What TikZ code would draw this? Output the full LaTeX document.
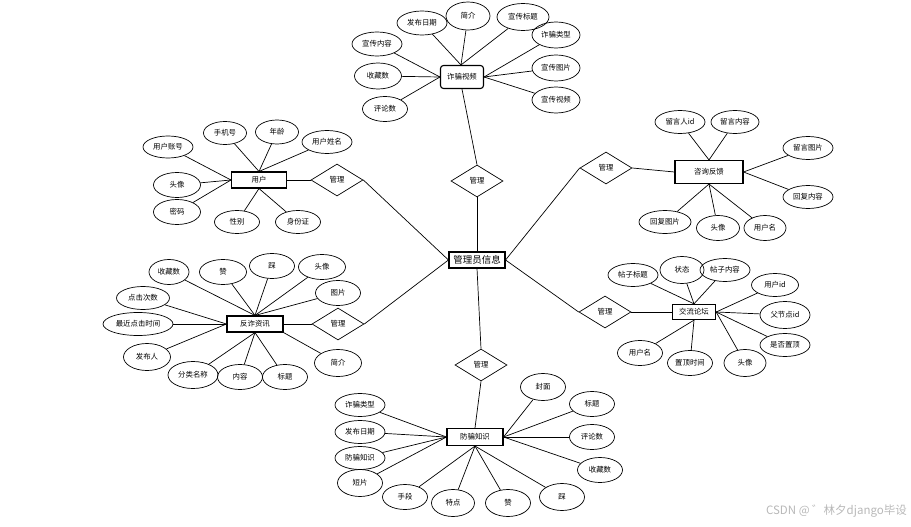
\documentclass[tikz,border=0pt]{standalone}
\usepackage{fontspec}
\setmainfont{Noto Sans CJK SC}
\usetikzlibrary{shapes.geometric}
\tikzset{
  attr/.style={ellipse, draw, line width=0.7pt, inner sep=0pt, minimum width=47, minimum height=24, font=\fontsize{7.4}{8}\selectfont},
  ent/.style={rectangle, draw, line width=1.1pt, inner sep=1pt, font=\fontsize{7.4}{8}\selectfont},
  rel/.style={diamond, draw, line width=0.7pt, inner sep=0pt, minimum width=52, minimum height=32, font=\fontsize{7.4}{8}\selectfont},
  lnk/.style={line width=0.7pt}
}
\begin{document}
\begin{tikzpicture}[x=1pt,y=-1pt]
\useasboundingbox (0,0) rectangle (911,527);
% center
\node[ent, minimum width=56, minimum height=16, font=\fontsize{9.5}{10}\selectfont] (mgr) at (477,260) {管理员信息};
% relationship diamonds
\node[rel] (d1) at (337,180) {管理};
\node[rel] (d2) at (477,181) {管理};
\node[rel] (d3) at (606,168) {管理};
\node[rel] (d4) at (605,312) {管理};
\node[rel] (d5) at (338,324) {管理};
\node[rel] (d6) at (481,365) {管理};
\draw[lnk] (d1.east) -- (mgr.west);
\draw[lnk] (d5.east) -- (mgr.west);
\draw[lnk] (d2.south) -- (mgr.north);
\draw[lnk] (d6.north) -- (mgr.south);
\draw[lnk] (d3.west) -- (mgr.east);
\draw[lnk] (d4.west) -- (mgr.east);

% ---- top: 诈骗视频
\node[ent, rounded corners=3pt, minimum width=43, minimum height=23] (v) at (462,77) {诈骗视频};
\draw[lnk] (v.south) -- (d2.north);
\node[attr, minimum width=50, minimum height=24] (v1) at (422,23) {发布日期};
\node[attr, minimum width=44, minimum height=28] (v2) at (468,16) {简介};
\node[attr, minimum width=52, minimum height=27] (v3) at (523,17) {宣传标题};
\node[attr, minimum width=48, minimum height=26] (v4) at (556,35) {诈骗类型};
\node[attr, minimum width=48, minimum height=26] (v5) at (556,68) {宣传图片};
\node[attr, minimum width=48, minimum height=26] (v6) at (556,100) {宣传视频};
\node[attr, minimum width=50, minimum height=24] (v7) at (377,44) {宣传内容};
\node[attr, minimum width=47, minimum height=26] (v8) at (378,76) {收藏数};
\node[attr, minimum width=45, minimum height=25] (v9) at (385,109) {评论数};
\foreach \a in {v1,v2,v3} \draw[lnk] (\a) -- ([xshift=-1pt]v.north);
\foreach \a in {v4,v5,v6} \draw[lnk] (\a) -- (v.east);
\foreach \a in {v7,v8,v9} \draw[lnk] (\a) -- (v.west);

% ---- user
\node[ent, minimum width=55, minimum height=16] (u) at (259,180) {用户};
\draw[lnk] (u.east) -- (d1.west);
\node[attr, minimum width=50, minimum height=22] (u1) at (168,147) {用户账号};
\node[attr, minimum width=43, minimum height=23] (u2) at (225,133) {手机号};
\node[attr, minimum width=43, minimum height=24] (u3) at (277,132) {年龄};
\node[attr, minimum width=50, minimum height=23] (u4) at (327,142) {用户姓名};
\node[attr, minimum width=47, minimum height=25] (u5) at (177,185) {头像};
\node[attr, minimum width=47, minimum height=25] (u6) at (177,212) {密码};
\node[attr, minimum width=45, minimum height=23] (u7) at (237,222) {性别};
\node[attr, minimum width=45, minimum height=23] (u8) at (298,222) {身份证};
\foreach \a in {u2,u3,u4} \draw[lnk] (\a) -- (u.north);
\foreach \a in {u1,u5,u6} \draw[lnk] (\a) -- (u.west);
\foreach \a in {u7,u8} \draw[lnk] (\a) -- (u.south);

% ---- 咨询反馈
\node[ent, minimum width=68, minimum height=23] (f) at (709,172) {咨询反馈};
\draw[lnk] (d3.east) -- (f.west);
\node[attr, minimum width=50, minimum height=23] (f1) at (680,122) {留言人id};
\node[attr, minimum width=48, minimum height=23] (f2) at (735,122) {留言内容};
\node[attr, minimum width=50, minimum height=23] (f3) at (808,148) {留言图片};
\node[attr, minimum width=50, minimum height=23] (f4) at (808,197) {回复内容};
\node[attr, minimum width=52, minimum height=23] (f5) at (665,222) {回复图片};
\node[attr, minimum width=43, minimum height=25] (f6) at (718,228) {头像};
\node[attr, minimum width=42, minimum height=25] (f7) at (765,228) {用户名};
\foreach \a in {f1,f2} \draw[lnk] (\a) -- (f.north);
\foreach \a in {f3,f4} \draw[lnk] (\a) -- (f.east);
\foreach \a in {f5,f6,f7} \draw[lnk] (\a) -- (f.south);

% ---- 交流论坛
\node[ent, line width=1.3pt, minimum width=43, minimum height=15] (t) at (694,312) {交流论坛};
\draw[lnk] (d4.east) -- (t.west);
\node[attr, minimum width=50, minimum height=23] (t1) at (633,275) {帖子标题};
\node[attr, minimum width=44, minimum height=27] (t2) at (682,270) {状态};
\node[attr, minimum width=50, minimum height=23] (t3) at (725,270) {帖子内容};
\node[attr, minimum width=47, minimum height=23] (t4) at (775,285) {用户id};
\node[attr, minimum width=50, minimum height=27] (t5) at (785,315) {父节点id};
\node[attr, minimum width=50, minimum height=23] (t6) at (785,345) {是否置顶};
\node[attr, minimum width=42, minimum height=27] (t7) at (745,363) {头像};
\node[attr, minimum width=45, minimum height=25] (t8) at (690,363) {置顶时间};
\node[attr, minimum width=45, minimum height=25] (t9) at (640,353) {用户名};
\foreach \a in {t1,t2,t3} \draw[lnk] (\a) -- (t.north);
\foreach \a in {t4,t5,t6,t7} \draw[lnk] (\a) -- (t.east);
\foreach \a in {t8,t9} \draw[lnk] (\a) -- (t.south);

% ---- 反诈资讯
\node[ent, minimum width=56, minimum height=16] (n) at (255,324) {反诈资讯};
\draw[lnk] (n.east) -- (d5.west);
\node[attr, minimum width=40, minimum height=25] (n1) at (169,272) {收藏数};
\node[attr, minimum width=47, minimum height=25] (n2) at (223,272) {赞};
\node[attr, minimum width=45, minimum height=25] (n3) at (272,266) {踩};
\node[attr, minimum width=47, minimum height=25] (n4) at (322,267) {头像};
\node[attr, minimum width=45, minimum height=25] (n5) at (338,293) {图片};
\node[attr, minimum width=47, minimum height=27] (n6) at (338,363) {简介};
\node[attr, minimum width=45, minimum height=25] (n7) at (285,377) {标题};
\node[attr, minimum width=45, minimum height=25] (n8) at (240,377) {内容};
\node[attr, minimum width=50, minimum height=27] (n9) at (193,375) {分类名称};
\node[attr, minimum width=47, minimum height=27] (n10) at (147,357) {发布人};
\node[attr, minimum width=70, minimum height=23] (n11) at (138,324) {最近点击时间};
\node[attr, minimum width=53, minimum height=23] (n12) at (143,298) {点击次数};
\foreach \a in {n1,n2,n3,n4,n5} \draw[lnk] (\a) -- (n.north);
\foreach \a in {n10,n11,n12} \draw[lnk] (\a) -- (n.west);
\foreach \a in {n7,n8,n9} \draw[lnk] (\a) -- (n.south);
\draw[lnk] (n6) -- (n.south east);

% ---- 防骗知识
\node[ent, minimum width=56, minimum height=17] (k) at (475,437) {防骗知识};
\draw[lnk] (d6.south) -- (k.north);
\node[attr, minimum width=45, minimum height=27] (k1) at (543,387) {封面};
\node[attr, minimum width=45, minimum height=25] (k2) at (592,404) {标题};
\node[attr, minimum width=45, minimum height=25] (k3) at (592,437) {评论数};
\node[attr, minimum width=45, minimum height=25] (k4) at (600,470) {收藏数};
\node[attr, minimum width=45, minimum height=27] (k5) at (562,497) {踩};
\node[attr, minimum width=45, minimum height=27] (k6) at (508,503) {赞};
\node[attr, minimum width=43, minimum height=27] (k7) at (453,503) {特点};
\node[attr, minimum width=45, minimum height=25] (k8) at (405,497) {手段};
\node[attr, minimum width=45, minimum height=27] (k9) at (360,483) {短片};
\node[attr, minimum width=50, minimum height=23] (k10) at (360,458) {防骗知识};
\node[attr, minimum width=50, minimum height=23] (k11) at (360,432) {发布日期};
\node[attr, minimum width=50, minimum height=23] (k12) at (360,405) {诈骗类型};
\foreach \a in {k9,k10,k11,k12} \draw[lnk] (\a) -- (k.west);
\foreach \a in {k5,k6,k7,k8} \draw[lnk] (\a) -- (k.south);
\foreach \a in {k1,k2,k3,k4} \draw[lnk] (\a) -- (k.east);

% watermark
\node[anchor=east, text=black!28, inner sep=0pt, font=\fontsize{11.5}{12}\selectfont] (wm) at (907,511) {CSDN @ ゛林夕django毕设};
\end{tikzpicture}
\end{document}
